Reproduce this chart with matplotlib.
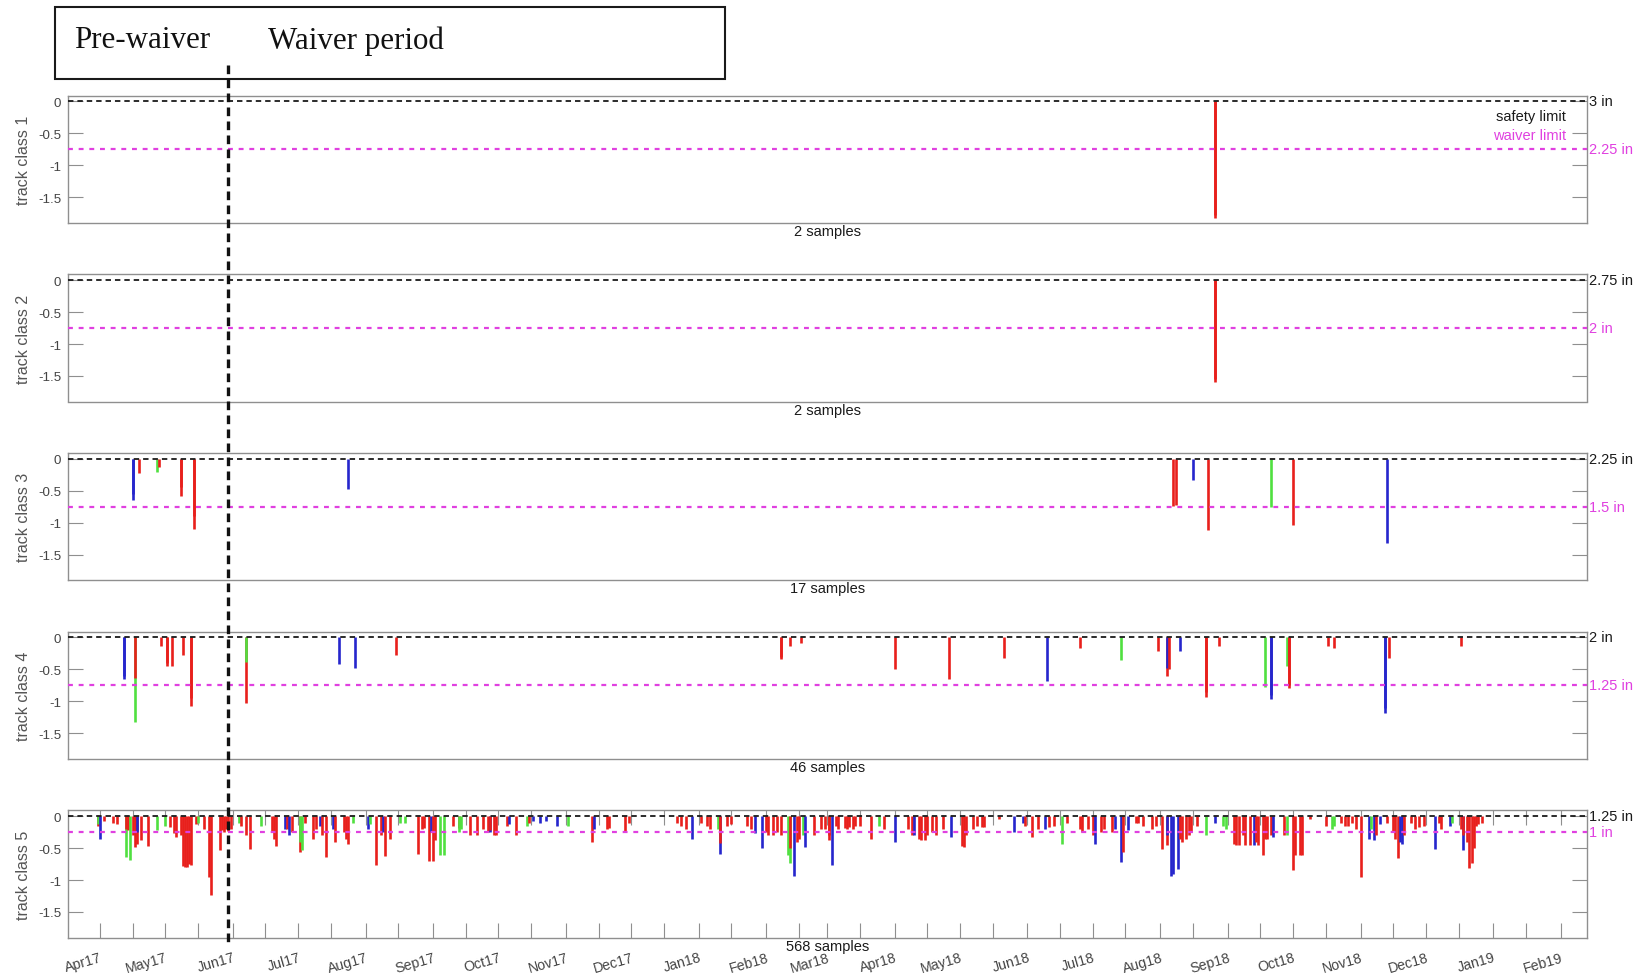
import numpy as np
import matplotlib
matplotlib.use("Agg")
import matplotlib.pyplot as plt
import matplotlib.dates as mdates
import matplotlib.transforms as mtransforms
from matplotlib.lines import Line2D
from matplotlib.patches import Rectangle

plt.rcParams["font.family"] = ["Liberation Sans", "DejaVu Sans"]

# ---------------------------------------------------------------- data
class_labels = ["track class 1", "track class 2", "track class 3",
                "track class 4", "track class 5"]
safety_limit_in = [3, 2.75, 2.25, 2, 1.25]
waiver_limit_in = [2.25, 2, 1.5, 1.25, 1]
sample_counts = [2, 2, 17, 46, 568]
waiver_start = "2017-05-30"
date_span = ["2017-03-17T11:00", "2019-02-13T00:00"]
depth_ticks = [0, -0.5, -1, -1.5]
depth_tick_labels = ["0", "-0.5", "-1", "-1.5"]

# depth below the safety limit (in) of each exceedance, with its colour code
class1_dates = ["2018-08-26", "2018-08-26"]
class1_depth = [-1.82, -1.78]
class1_color = "rr"

class2_dates = ["2018-08-26", "2018-08-26"]
class2_depth = [-1.60, -1.55]
class2_color = "rr"

class3_dates = ["2017-04-16", "2017-04-16", "2017-04-19", "2017-04-27", "2017-04-28",
                "2017-05-08", "2017-05-08", "2017-05-14", "2017-05-14", "2017-07-24",
                "2018-08-07", "2018-08-08", "2018-08-16", "2018-08-23", "2018-09-21",
                "2018-10-01", "2018-11-13"]
class3_depth = [-0.65, -0.55, -0.22, -0.20, -0.13,
                -0.58, -0.45, -1.10, -0.90, -0.47,
                -0.74, -0.72, -0.33, -1.11, -0.76,
                -1.03, -1.32]
class3_color = "bbrgrrrrrbrrbrgrb"

class4_dates = ["2017-04-12", "2017-04-12", "2017-04-17", "2017-04-17", "2017-04-29",
                "2017-05-02", "2017-05-02", "2017-05-04", "2017-05-09", "2017-05-13",
                "2017-05-13", "2017-06-07", "2017-06-07", "2017-07-20", "2017-07-27",
                "2017-08-15", "2018-02-08", "2018-02-08", "2018-02-12", "2018-02-17",
                "2018-04-01", "2018-04-26", "2018-05-21", "2018-06-10", "2018-06-25",
                "2018-07-14", "2018-07-31", "2018-08-04", "2018-08-04", "2018-08-05",
                "2018-08-10", "2018-08-22", "2018-08-22", "2018-08-28", "2018-09-18",
                "2018-09-21", "2018-09-21", "2018-09-28", "2018-09-29", "2018-09-29",
                "2018-10-17", "2018-10-20", "2018-11-12", "2018-11-12", "2018-11-14",
                "2018-12-17"]
class4_depth = [-0.65, -0.60, -1.32, -0.63, -0.13,
                -0.45, -0.40, -0.45, -0.28, -1.08,
                -0.95, -1.02, -0.38, -0.41, -0.48,
                -0.28, -0.33, -0.30, -0.13, -0.08,
                -0.49, -0.65, -0.32, -0.68, -0.17,
                -0.36, -0.22, -0.60, -0.48, -0.50,
                -0.21, -0.93, -0.85, -0.13, -0.77,
                -0.97, -0.90, -0.45, -0.79, -0.75,
                -0.13, -0.17, -1.19, -1.10, -0.32,
                -0.14]
class4_color = ("bbgrrrrrrrrrgbb" "rrrrrrrrb" "rgr" "rb" "rb" "rrr"
                "gbbg" "rrrr" "bbrr")

class5_dates = [
    "2017-03-31", "2017-03-31", "2017-04-01", "2017-04-03", "2017-04-07", "2017-04-09",
    "2017-04-13", "2017-04-13", "2017-04-14", "2017-04-15", "2017-04-16", "2017-04-17",
    "2017-04-18", "2017-04-18", "2017-04-20", "2017-04-23", "2017-04-27",
    "2017-05-01", "2017-05-03", "2017-05-05", "2017-05-06", "2017-05-08", "2017-05-09",
    "2017-05-10", "2017-05-11", "2017-05-12", "2017-05-13", "2017-05-15", "2017-05-16",
    "2017-05-19", "2017-05-21", "2017-05-22", "2017-05-26", "2017-05-27", "2017-05-28",
    "2017-05-29", "2017-05-30", "2017-05-31",
    "2017-06-04", "2017-06-05", "2017-06-07", "2017-06-09", "2017-06-14", "2017-06-19",
    "2017-06-20", "2017-06-21", "2017-06-25", "2017-06-26", "2017-06-27", "2017-06-28",
    "2017-07-02", "2017-07-02", "2017-07-03", "2017-07-04", "2017-07-08", "2017-07-09",
    "2017-07-11", "2017-07-12", "2017-07-14", "2017-07-17", "2017-07-18", "2017-07-22",
    "2017-07-23", "2017-07-24", "2017-07-26",
    "2017-08-02", "2017-08-03", "2017-08-06", "2017-08-08", "2017-08-09", "2017-08-10",
    "2017-08-12", "2017-08-17", "2017-08-19", "2017-08-25", "2017-08-27", "2017-08-28",
    "2017-08-30", "2017-08-31",
    "2017-09-01", "2017-09-02", "2017-09-04", "2017-09-06", "2017-09-10", "2017-09-13",
    "2017-09-13", "2017-09-14", "2017-09-18", "2017-09-21", "2017-09-24", "2017-09-26",
    "2017-09-27", "2017-09-27", "2017-09-29", "2017-09-30",
    "2017-10-05", "2017-10-06", "2017-10-09", "2017-10-14", "2017-10-15", "2017-10-17",
    "2017-10-20", "2017-10-23", "2017-10-28",
    "2017-11-02", "2017-11-13", "2017-11-14", "2017-11-20", "2017-11-21", "2017-11-28",
    "2017-11-30",
    "2017-12-22", "2017-12-24", "2017-12-26", "2017-12-29",
    "2018-01-02", "2018-01-05", "2018-01-06", "2018-01-10", "2018-01-11", "2018-01-11",
    "2018-01-14", "2018-01-16", "2018-01-23", "2018-01-25", "2018-01-27", "2018-01-30",
    "2018-02-01", "2018-02-02", "2018-02-04", "2018-02-06", "2018-02-08", "2018-02-11",
    "2018-02-12", "2018-02-12", "2018-02-14", "2018-02-15", "2018-02-16", "2018-02-18",
    "2018-02-19", "2018-02-23", "2018-02-26", "2018-02-28",
    "2018-03-02", "2018-03-02", "2018-03-03", "2018-03-05", "2018-03-06", "2018-03-09",
    "2018-03-10", "2018-03-11", "2018-03-13", "2018-03-14", "2018-03-16", "2018-03-21",
    "2018-03-25", "2018-03-27",
    "2018-04-01", "2018-04-07", "2018-04-09", "2018-04-10", "2018-04-12", "2018-04-13",
    "2018-04-15", "2018-04-16", "2018-04-18", "2018-04-20", "2018-04-23", "2018-04-27",
    "2018-05-02", "2018-05-03", "2018-05-04", "2018-05-07", "2018-05-09", "2018-05-11",
    "2018-05-12", "2018-05-19", "2018-05-26", "2018-05-30", "2018-05-31",
    "2018-06-03", "2018-06-06", "2018-06-09", "2018-06-11", "2018-06-13", "2018-06-17",
    "2018-06-19", "2018-06-25", "2018-06-26", "2018-06-29",
    "2018-07-01", "2018-07-02", "2018-07-05", "2018-07-06", "2018-07-10", "2018-07-11",
    "2018-07-14", "2018-07-15", "2018-07-17", "2018-07-21", "2018-07-22", "2018-07-24",
    "2018-07-28", "2018-07-30",
    "2018-08-02", "2018-08-04", "2018-08-04", "2018-08-06", "2018-08-07", "2018-08-09",
    "2018-08-10", "2018-08-11", "2018-08-13", "2018-08-14", "2018-08-15", "2018-08-18",
    "2018-08-22", "2018-08-26", "2018-08-30", "2018-08-31",
    "2018-09-04", "2018-09-05", "2018-09-06", "2018-09-08", "2018-09-09", "2018-09-11",
    "2018-09-13", "2018-09-14", "2018-09-15", "2018-09-17", "2018-09-18", "2018-09-19",
    "2018-09-21", "2018-09-22", "2018-09-27", "2018-09-28",
    "2018-10-01", "2018-10-02", "2018-10-04", "2018-10-05", "2018-10-09", "2018-10-16",
    "2018-10-19", "2018-10-20", "2018-10-23", "2018-10-25", "2018-10-26", "2018-10-28",
    "2018-10-30",
    "2018-11-01", "2018-11-05", "2018-11-06", "2018-11-07", "2018-11-08", "2018-11-10",
    "2018-11-13", "2018-11-16", "2018-11-17", "2018-11-18", "2018-11-19", "2018-11-20",
    "2018-11-21", "2018-11-24", "2018-11-26", "2018-11-28", "2018-11-30",
    "2018-12-05", "2018-12-07", "2018-12-08", "2018-12-12", "2018-12-13", "2018-12-17",
    "2018-12-18", "2018-12-18", "2018-12-20", "2018-12-21", "2018-12-22", "2018-12-23",
    "2018-12-24", "2018-12-25", "2018-12-27",
]
class5_depth = [
    -0.15, -0.12, -0.36, -0.08, -0.10, -0.12,
    -0.64, -0.20, -0.22, -0.69, -0.30, -0.48,
    -0.43, -0.25, -0.38, -0.47, -0.21,
    -0.15, -0.17, -0.27, -0.33, -0.30, -0.78,
    -0.80, -0.80, -0.75, -0.77, -0.12, -0.10,
    -0.20, -0.96, -1.24, -0.53, -0.22, -0.25,
    -0.20, -0.24, -0.20,
    -0.10, -0.15, -0.30, -0.52, -0.15, -0.25,
    -0.35, -0.47, -0.20, -0.20, -0.30, -0.25,
    -0.56, -0.40, -0.53, -0.10, -0.35, -0.20,
    -0.15, -0.30, -0.64, -0.20, -0.40, -0.25,
    -0.35, -0.43, -0.10,
    -0.20, -0.12, -0.77, -0.30, -0.25, -0.63,
    -0.35, -0.10, -0.10, -0.59, -0.20, -0.18,
    -0.70, -0.25,
    -0.70, -0.38, -0.61, -0.61, -0.15, -0.18,
    -0.25, -0.20, -0.30, -0.30, -0.20, -0.25,
    -0.25, -0.22, -0.30, -0.30,
    -0.15, -0.12, -0.30, -0.15, -0.10, -0.08,
    -0.10, -0.08, -0.15,
    -0.15, -0.40, -0.20, -0.20, -0.18, -0.25,
    -0.10,
    -0.10, -0.15, -0.20, -0.35,
    -0.10, -0.15, -0.20, -0.20, -0.59, -0.42,
    -0.15, -0.12, -0.15, -0.20, -0.27, -0.50,
    -0.25, -0.30, -0.30, -0.25, -0.30, -0.61,
    -0.74, -0.50, -0.93, -0.40, -0.35, -0.30,
    -0.49, -0.30, -0.20, -0.20,
    -0.38, -0.30, -0.77, -0.15, -0.20, -0.18,
    -0.20, -0.17, -0.20, -0.15, -0.15, -0.35,
    -0.15, -0.20,
    -0.40, -0.20, -0.30, -0.30, -0.35, -0.38,
    -0.38, -0.30, -0.25, -0.30, -0.20, -0.33,
    -0.47, -0.49, -0.30, -0.20, -0.15, -0.17,
    -0.17, -0.05, -0.25, -0.10, -0.15,
    -0.33, -0.20, -0.20, -0.17, -0.15, -0.43,
    -0.10, -0.20, -0.25, -0.20,
    -0.30, -0.43, -0.25, -0.20, -0.25, -0.20,
    -0.72, -0.56, -0.22, -0.10, -0.10, -0.15,
    -0.20, -0.15,
    -0.51, -0.45, -0.30, -0.94, -0.90, -0.82,
    -0.35, -0.40, -0.35, -0.30, -0.25, -0.15,
    -0.30, -0.10, -0.15, -0.20,
    -0.43, -0.45, -0.45, -0.30, -0.45, -0.45,
    -0.45, -0.40, -0.45, -0.61, -0.35, -0.35,
    -0.30, -0.32, -0.30, -0.30,
    -0.85, -0.61, -0.61, -0.61, -0.05, -0.15,
    -0.20, -0.15, -0.10, -0.15, -0.15, -0.10,
    -0.20,
    -0.95, -0.35, -0.20, -0.38, -0.30, -0.12,
    -0.10, -0.25, -0.35, -0.66, -0.40, -0.43,
    -0.30, -0.10, -0.20, -0.17, -0.15,
    -0.52, -0.10, -0.20, -0.15, -0.10, -0.20,
    -0.53, -0.30, -0.40, -0.81, -0.74, -0.50,
    -0.15, -0.12, -0.10,
]
class5_color = (
    "rgbrrrgrrgrrrbrrg"
    "grrrrrrrrrrgrrrrrrrrr"
    "grrrgrrrbrbr"
    "rggrrrbrrbrrrrg"
    "bgrrbrrggrrrrb"
    "rrggrrggrrrrbrrr"
    "rbrgrbbbb"
    "grbrrrr"
    "rrrb"
    "rrrgbrrrrrbb"
    "rrrrrggrbrrgbrrr"
    "rrbrrrrrrrrrgr"
    "brrbrrrrrrrb"
    "rrrrrrrrbbr"
    "rrbrrgrrrr"
    "rbrrrbbrbrrrrr"
    "rrbbbbrrrrrrgbgg"
    "rrrrrrbrrrrrrbrg"
    "rrrrrrggrrrrr"
    "rbgbrbrrrrbbrrrrr"
    "brrbgrbrrrrrrrr"
)

# ---------------------------------------------------------------- style
STEM_COLORS = {"r": "#e8201c", "g": "#50e040", "b": "#2626cc"}
SPINE = "#8f8f8f"
TICK_TEXT = "#444444"
MAGENTA = "#e040e0"

series = [
    (class1_dates, class1_depth, class1_color),
    (class2_dates, class2_depth, class2_color),
    (class3_dates, class3_depth, class3_color),
    (class4_dates, class4_depth, class4_color),
    (class5_dates, class5_depth, class5_color),
]

W_PX, H_PX = 1648, 979
fig = plt.figure(figsize=(W_PX / 100, H_PX / 100), dpi=100)

ax_left_px, ax_right_px = 68.3, 1587.0
ax_tops_px = [96.7, 275.4, 454.0, 632.7, 811.4]
ax_h_px = 127.1

axes = []
for i, (dates, depth, codes) in enumerate(series):
    assert len(dates) == len(depth) == len(codes)
    top = ax_tops_px[i]
    ax = fig.add_axes([ax_left_px / W_PX, 1 - (top + ax_h_px) / H_PX,
                       (ax_right_px - ax_left_px) / W_PX, ax_h_px / H_PX])
    axes.append(ax)

    x = np.array(dates, dtype="datetime64[D]")
    ax.vlines(x, np.array(depth), 0, colors=[STEM_COLORS[c] for c in codes],
              linewidth=1.9, zorder=2)

    offset = waiver_limit_in[i] - safety_limit_in[i]
    ax.axhline(0, color="#1a1a1a", lw=1.3, ls=(0, (3.0, 2.2)), zorder=3)
    ax.axhline(offset, color=MAGENTA, lw=1.6, ls=(0, (2.2, 2.6)), zorder=3)

    ax.set_xlim(np.datetime64(date_span[0]), np.datetime64(date_span[1]))
    ax.set_ylim(-1.9, 0.09)

    for sp in ax.spines.values():
        sp.set_color(SPINE)
        sp.set_linewidth(1.0)

    ax.set_yticks(depth_ticks)
    ax.set_yticklabels(depth_tick_labels)
    ax.tick_params(axis="y", direction="in", length=11, width=0.8, color=SPINE,
                   left=True, right=True, labelsize=9.6, labelcolor=TICK_TEXT, pad=5)

    if i < len(series) - 1:
        ax.tick_params(axis="x", which="both", bottom=False, top=False,
                       labelbottom=False)
    else:
        ax.xaxis.set_major_locator(mdates.MonthLocator())
        ax.xaxis.set_minor_locator(mdates.MonthLocator(bymonthday=16))
        ax.xaxis.set_major_formatter(mdates.DateFormatter("%b%y"))
        ax.xaxis.set_minor_formatter(mdates.DateFormatter(""))
        ax.tick_params(axis="x", which="both", direction="in", length=11, width=0.8,
                       color=SPINE, bottom=True, top=True, labelsize=10.2,
                       labelcolor=TICK_TEXT, pad=9)
        for lab in ax.get_xticklabels():
            lab.set_rotation(16)
            lab.set_ha("right")
            lab.set_va("top")
            lab.set_rotation_mode("anchor")

    ax.text(-0.0295, 0.5, class_labels[i], transform=ax.transAxes, rotation=90,
            ha="center", va="center", fontsize=11.5, color="#555555")

    edge = mtransforms.blended_transform_factory(ax.transAxes, ax.transData)
    ax.text(1.0015, 0, f"{safety_limit_in[i]:g} in", transform=edge,
            ha="left", va="center", fontsize=10.5, color="#1a1a1a")
    ax.text(1.0015, offset, f"{waiver_limit_in[i]:g} in", transform=edge,
            ha="left", va="center", fontsize=10.5, color=MAGENTA)

    ax.annotate(f"{sample_counts[i]} samples", xy=(0.5, 0), xycoords="axes fraction",
                xytext=(0, -6), textcoords="offset points", ha="center",
                va="center", fontsize=10.5, color="#1a1a1a")

    if i == 0:
        ax.text(0.986, -0.235, "safety limit", transform=edge, ha="right",
                va="center", fontsize=10.5, color="#1a1a1a")
        ax.text(0.986, -0.53, "waiver limit", transform=edge, ha="right",
                va="center", fontsize=10.5, color=MAGENTA)

# waiver start marker running through all panels
ref = axes[0]
x_disp = ref.transData.transform((mdates.date2num(np.datetime64(waiver_start)), 0))[0]
x_fig = fig.transFigure.inverted().transform((x_disp, 0))[0]
fig.add_artist(Line2D([x_fig, x_fig], [1 - 66 / H_PX, 1 - 948 / H_PX],
                      transform=fig.transFigure, color="#111111", lw=2.4,
                      ls=(0, (2.6, 1.6)), zorder=10))

# period header box
fig.add_artist(Rectangle((54.7 / W_PX, 1 - 80 / H_PX), 670.3 / W_PX, 72 / H_PX,
                         transform=fig.transFigure, fill=False, ec="#1a1a1a",
                         lw=1.5, zorder=5))
serif = ["Liberation Serif", "DejaVu Serif"]
fig.text(73.6 / W_PX, 1 - 48.5 / H_PX, "Pre-waiver", family=serif, fontsize=22.3,
         va="baseline", ha="left", color="#111111")
fig.text(268 / W_PX, 1 - 48.5 / H_PX, "Waiver period", family=serif, fontsize=22.3,
         va="baseline", ha="left", color="#111111")

fig.savefig("out.png", dpi=100)
